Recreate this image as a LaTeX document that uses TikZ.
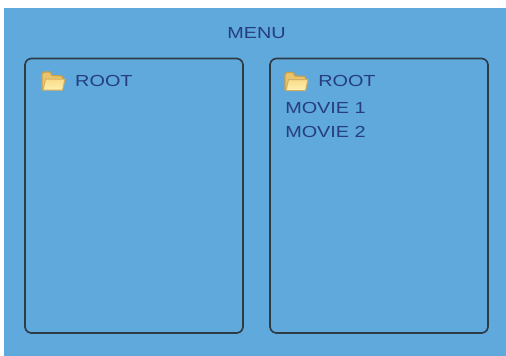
\documentclass[tikz,border=0pt]{standalone}
\usepackage{fontspec}
\setmainfont{Liberation Sans}
\definecolor{bgblue}{HTML}{5FA9DD}
\definecolor{txtblue}{HTML}{263E7E}
\definecolor{boxline}{HTML}{2E3B45}
\definecolor{fedge}{HTML}{CDA044}
\definecolor{fback}{HTML}{E9C46E}
\definecolor{ffront}{HTML}{FFF0B0}
\definecolor{ffrontb}{HTML}{F8DC88}
\tikzset{
  x=1pt,y=-1pt,
  lbl/.style={text=txtblue,font=\fontsize{16}{17}\selectfont,anchor=base west,inner sep=0pt,xscale=1.24,transform shape},
  panel/.style={draw=boxline,line width=1.6pt,fill=none,line join=miter},
}
\newcommand{\folderat}[2]{%
  \begin{scope}[shift={(#1,#2)}]
    \fill[fback,draw=fedge,line width=1.2pt,line join=round] (1,18.5) -- (1,3) -- (3,1) -- (9,1) -- (11,4.5) -- (21,5) -- (22,8) -- (21,18.5) -- cycle;
    \shade[top color=ffrontb,bottom color=ffront,draw=fedge!85!white,line width=1pt,line join=round] (2,19) -- (4.5,8) -- (24,8) -- (21.5,19) -- cycle;
  \end{scope}}
\newcommand{\panelbox}[4]{%
  \draw[panel] (#1+6,#2) -- (#3-6,#2) -- (#3-3,#2+1) -- (#3-1,#2+3) -- (#3,#2+6)
    -- (#3,#4-6) -- (#3-1,#4-3) -- (#3-3,#4-1) -- (#3-6,#4)
    -- (#1+6,#4) -- (#1+3,#4-1) -- (#1+1,#4-3) -- (#1,#4-6)
    -- (#1,#2+6) -- (#1+1,#2+3) -- (#1+3,#2+1) -- cycle;}
\begin{document}
\begin{tikzpicture}
\useasboundingbox (0,0) rectangle (506,356);
\fill[white] (0,0) rectangle (506,356);
\fill[bgblue] (4,8) rectangle (506,356);
\panelbox{25}{58.5}{243}{333}
\panelbox{270}{58.5}{488}{333}
\node[lbl] (menu) at (227,38.5) {MENU};
\folderat{41}{71}
\node[lbl] (rootl) at (75,86) {ROOT};
\folderat{284}{71.5}
\node[lbl] (rootr) at (318,86) {ROOT};
\node[lbl] (m1) at (285,113) {MOVIE 1};
\node[lbl] (m2) at (285,137.5) {MOVIE 2};
\end{tikzpicture}
\end{document}
